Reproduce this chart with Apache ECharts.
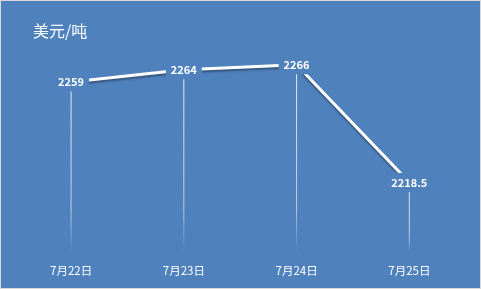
<!DOCTYPE html>
<html><head><meta charset="utf-8">
<script src="https://cdn.jsdelivr.net/npm/echarts@6/dist/echarts.min.js"></script>
<style>
html,body{margin:0;padding:0;}
#wrap{position:relative;width:481px;height:289px;background:#d9d9d9;}
#chart{position:absolute;left:1px;top:1px;width:479px;height:287px;background:#4F81BD;}
</style></head>
<body><div id="wrap"><div id="chart"></div></div>
<script>
const categories = ['7月22日','7月23日','7月24日','7月25日'];
const prices = [2259, 2264, 2266, 2218.5];
const unitTitle = '美元/吨';

const chart = echarts.init(document.getElementById('chart'), null, {renderer:'canvas'});
const bg = '#4F81BD';
chart.setOption({
  backgroundColor: bg,
  animation: false,
  title: {text: unitTitle, left: 27, top: 17, textStyle:{color:'#fff', fontSize:16, fontWeight:'normal', fontFamily:'Noto Sans CJK SC'}},
  grid: {left: 13.7, right: 14.3, top: 29, bottom: 35},
  xAxis: {type:'category', data: categories, boundaryGap:true,
    axisLine:{show:false}, axisTick:{show:false}, splitLine:{show:false},
    axisLabel:{color:'#fff', fontSize:11.5, margin:12, fontFamily:'Noto Sans CJK SC'}},
  yAxis: {type:'value', min:2190, max:2280, show:false, splitLine:{show:false}},
  series: [
    {type:'bar', data: prices, barWidth:1, z:1,
      itemStyle:{color: new echarts.graphic.LinearGradient(0,0,0,1,[
        {offset:0,color:'rgba(255,255,255,0.85)'},
        {offset:0.75,color:'rgba(255,255,255,0.6)'},
        {offset:1,color:'rgba(255,255,255,0)'}])},
      silent:true},
    {type:'line', data: prices, z:3, symbol:'circle', symbolSize:1, showSymbol:true,
      itemStyle:{color:'rgba(255,255,255,0)'},
      lineStyle:{color:'#fff', width:3, shadowColor:'rgba(0,0,0,0.35)', shadowBlur:2, shadowOffsetY:2},
      label:{show:true, position:'inside', color:'#fff', fontSize:11, fontWeight:'bold',
        fontFamily:'Noto Sans CJK SC', backgroundColor:bg, padding:[4,5]}}
  ]
});
</script></body></html>
